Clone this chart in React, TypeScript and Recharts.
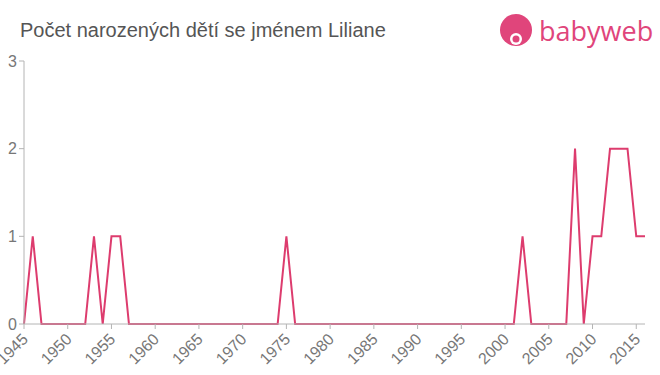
import { LineChart, Line, XAxis, YAxis } from 'recharts'

const years = [
  1945, 1946, 1947, 1948, 1949, 1950, 1951, 1952, 1953, 1954, 1955, 1956, 1957, 1958,
  1959, 1960, 1961, 1962, 1963, 1964, 1965, 1966, 1967, 1968, 1969, 1970, 1971, 1972,
  1973, 1974, 1975, 1976, 1977, 1978, 1979, 1980, 1981, 1982, 1983, 1984, 1985, 1986,
  1987, 1988, 1989, 1990, 1991, 1992, 1993, 1994, 1995, 1996, 1997, 1998, 1999, 2000,
  2001, 2002, 2003, 2004, 2005, 2006, 2007, 2008, 2009, 2010, 2011, 2012, 2013, 2014,
  2015, 2016,
]

const births = [
  0, 1, 0, 0, 0, 0, 0, 0, 1, 0, 1, 1, 0, 0,
  0, 0, 0, 0, 0, 0, 0, 0, 0, 0, 0, 0, 0, 0,
  0, 0, 1, 0, 0, 0, 0, 0, 0, 0, 0, 0, 0, 0,
  0, 0, 0, 0, 0, 0, 0, 0, 0, 0, 0, 0, 0, 0,
  0, 1, 0, 0, 0, 0, 0, 2, 0, 1, 1, 2, 2, 2,
  1, 1,
]

const xTicks = [1945, 1950, 1955, 1960, 1965, 1970, 1975, 1980, 1985, 1990, 1995, 2000, 2005, 2010, 2015]
const yTicks = [0, 1, 2, 3]

const data = years.map((year, i) => ({ year, value: births[i] }))

const TITLE = 'Počet narozených dětí se jménem Liliane'
const FONT = '"Liberation Sans", Arial, sans-serif'

// rotated year label, its end sits just under the tick
function XTick(props: any) {
  const { x, y, payload } = props
  return (
    <g transform={`translate(${x}, ${y}) rotate(-45)`}>
      <text x={-3} y={10} textAnchor="end" fill="#777" fontSize="16px" fontFamily={FONT}>
        {String(payload.value)}
      </text>
    </g>
  )
}

function Header() {
  return (
    <svg width={660} height={60} style={{ position: 'absolute', left: 0, top: 0 }}>
      <text x={20} y={37} fontSize={20} fill="#555" fontFamily={FONT}>
        {TITLE}
      </text>
      <circle cx={516} cy={30} r={16} fill="#e0457b" />
      <circle cx={516} cy={39} r={6} fill="#fff" />
      <circle cx={516} cy={39} r={3.5} fill="#e0457b" />
      <text x={539} y={41} fontSize={27} fill="#e0457b" fontFamily='"Open Sans", sans-serif'>
        babyweb
      </text>
    </svg>
  )
}

export default function App() {
  return (
    <div style={{ position: 'absolute', left: 0, top: 0, width: 660, height: 375, background: '#fff' }}>
      <LineChart
        width={660}
        height={375}
        data={data}
        margin={{ top: 61, right: 15, left: 0, bottom: 0 }}
      >
        <XAxis
          dataKey="year"
          type="number"
          domain={[1945, 2016]}
          ticks={xTicks}
          interval={0}
          height={51}
          stroke="#b4b4b4"
          tickLine={{ stroke: '#b4b4b4' }}
          tickSize={5}
          tick={(p: any) => <XTick {...p} />}
        />
        <YAxis
          type="number"
          domain={[0, 3]}
          ticks={yTicks}
          width={24}
          stroke="#b4b4b4"
          tickSize={5}
          tick={{ fontSize: 16, fill: '#777', fontFamily: FONT }}
        />
        <Line
          type="linear"
          dataKey="value"
          stroke="#dd3c6e"
          strokeWidth={2}
          dot={false}
          activeDot={false}
          isAnimationActive={false}
        />
      </LineChart>
      <Header />
    </div>
  )
}
